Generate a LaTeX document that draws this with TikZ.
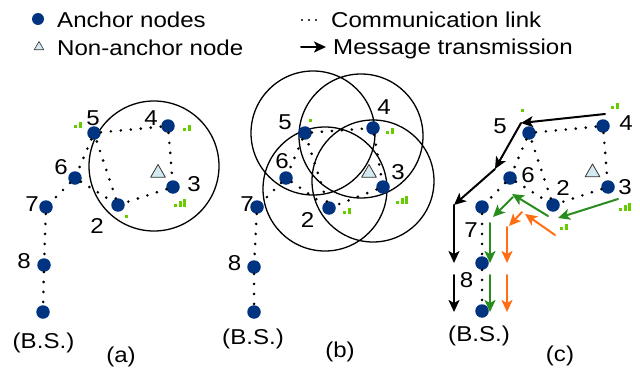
\documentclass[tikz,border=0pt]{standalone}
\usepackage{fontspec}
\setmainfont{Liberation Sans}[FakeStretch=1.12]
\usetikzlibrary{arrows.meta,shapes.geometric}
\definecolor{navy}{RGB}{0,51,128}
\definecolor{skyfill}{RGB}{210,234,240}
\definecolor{barg}{RGB}{102,204,0}
\definecolor{pathg}{RGB}{40,140,30}
\definecolor{patho}{RGB}{255,110,20}
% signal bars: x, y (bottom left), number of bars
\newcommand\sigbars[3]{\foreach \k in {1,...,#3} \fill[barg] ({#1+(\k-1)*4.7},#2) rectangle ++(3,{-1-2.5*\k});}
\begin{document}
\begin{tikzpicture}[x=1pt,y=-1pt,>={Stealth[length=12pt,width=11pt,inset=3pt]},
	font=\fontsize{21.5}{25}\selectfont, line join=round, line cap=round,
	anc/.style={circle,fill=navy,minimum size=13.5pt,inner sep=0pt},
	nonanc/.style={regular polygon,regular polygon sides=3,draw=black!80,line width=0.8pt,fill=skyfill,minimum size=17pt,inner sep=0pt},
	lbl/.style={inner sep=0pt},
	link/.style={line width=2.9pt,dash pattern=on 0pt off 10pt},
	keylink/.style={line width=2.3pt,dash pattern=on 0pt off 7pt},
	rangecirc/.style={line width=1.3pt},
	msg/.style={->,line width=2pt}]
	\useasboundingbox (0,0) rectangle (640,369);
	%	\draw[color=gray!50,dashed] (0,0) grid[step=20] (640,369);
	% legend
	\node[anc,minimum size=12pt] (kanc) at (38,19) {};
	\node[lbl,anchor=base west] (tanc) at (57,28) {Anchor nodes};
	\node[nonanc,minimum size=11pt,line width=0.6pt] (knon) at (39,47) {};
	\node[lbl,anchor=base west] (tnon) at (57,56) {Non-anchor node};
	\coordinate (kl1) at (302,20); \coordinate (kl2) at (318,20);
	\draw[keylink] (kl1)--(kl2);
	\node[lbl,anchor=base west] (tlink) at (331,28) {Communication link};
	\coordinate (km1) at (301,47); \coordinate (km2) at (326,47);
	\draw[msg] (km1)--(km2);
	\node[lbl,anchor=base west] (tmsg) at (333,55) {Message transmission};
	
	% (a)
	\draw[rangecirc] (154,166) circle (65);
	\node[anc] (a5) at (94,133) {};
	\node[anc] (a4) at (168,126) {};
	\node[anc] (a6) at (75,178) {};
	\node[anc] (a3) at (173,187) {};
	\node[anc] (a2) at (118,205) {};
	\node[anc] (a7) at (46,207) {};
	\node[anc] (a8) at (44,265) {};
	\node[anc] (abs) at (43,312) {};
	\node[nonanc] (atri) at (158,173) {};
	\node[lbl] (a5l) at (93,118.5) {5};
	\node[lbl] (a4l) at (151,118) {4};
	\node[lbl] (a6l) at (61,167.5) {6};
	\node[lbl] (a3l) at (194,184.5) {3};
	\node[lbl] (a2l) at (97,226) {2};
	\node[lbl] (a7l) at (32,204) {7};
	\node[lbl] (a8l) at (24,261) {8};
	\node[lbl] (absl) at (43.5,343) {(B.S.)};
	\node[lbl] (acap) at (121,357) {(a)};
	\sigbars{74}{128}{2} \sigbars{183}{131}{2} \sigbars{174}{207}{3} \sigbars{125}{218}{1}
	
	% (b)
	\draw[rangecirc] (313,133) circle (62) (361,136) circle (62)
		(325,189) circle (62) (373,181) circle (61);
	\node[anc] (b5) at (305,133) {};
	\node[anc] (b4) at (373,128) {};
	\node[anc] (b6) at (286,178) {};
	\node[anc] (b3) at (383,187) {};
	\node[anc] (b2) at (329,208) {};
	\node[anc] (b7) at (257,207) {};
	\node[anc] (b8) at (254,267) {};
	\node[anc] (bbs) at (254,312) {};
	\node[nonanc] (btri) at (369,173) {};
	\node[lbl] (b5l) at (285,122) {5};
	\node[lbl] (b4l) at (384,107.5) {4};
	\node[lbl] (b6l) at (282,161) {6};
	\node[lbl] (b3l) at (398,172.5) {3};
	\node[lbl] (b2l) at (307.5,219.5) {2};
	\node[lbl] (b7l) at (247,204.5) {7};
	\node[lbl] (b8l) at (234.5,263.5) {8};
	\node[lbl] (bbsl) at (253,339) {(B.S.)};
	\node[lbl] (bcap) at (340,352) {(b)};
	\sigbars{309}{122}{1} \sigbars{386}{134}{2} \sigbars{396}{204}{3} \sigbars{343}{214}{2}
	
	% (c)
	\node[anc] (c5) at (529,133) {};
	\node[anc] (c4) at (603,126) {};
	\node[anc] (c6) at (510,178) {};
	\node[anc] (c3) at (608,187) {};
	\node[anc] (c2) at (553,205) {};
	\node[anc] (c7) at (482,207) {};
	\node[anc] (c8) at (482,263) {};
	\node[anc] (cbs) at (482,311) {};
	\node[nonanc] (ctri) at (592.5,172.5) {};
	\node[lbl] (c5l) at (500,126.5) {5};
	\node[lbl] (c4l) at (626,123) {4};
	\node[lbl] (c6l) at (528,175.5) {6};
	\node[lbl] (c3l) at (625,187.5) {3};
	\node[lbl] (c2l) at (563,187.5) {2};
	\node[lbl] (c7l) at (471,230.5) {7};
	\node[lbl] (c8l) at (466.5,280.5) {8};
	\node[lbl] (cbsl) at (479,336) {(B.S.)};
	\node[lbl] (ccap) at (560,356) {(c)};
	\sigbars{521}{112}{1} \sigbars{611}{109}{2} \sigbars{619}{211}{3} \sigbars{560}{230}{2}
	
	% communication links
	\foreach \p in {a,b,c}
		\draw[link] (\p5)--(\p4)--(\p3)--(\p2)--(\p5)--(\p6)--(\p7)--(\p8)--(\p bs) (\p6)--(\p2);
	
	% message transmission
	\coordinate (k1) at (605,114); \coordinate (k2) at (521,123);
	\coordinate (k3) at (495,169); \coordinate (k4) at (454,205);
	\coordinate (k5) at (454,263); \coordinate (k6) at (454,275);
	\coordinate (k7) at (454,312);
	\draw[msg] (k1)--(k2); \draw[msg] (k2)--(k3); \draw[msg] (k3)--(k4);
	\draw[msg] (k4)--(k5); \draw[msg] (k6)--(k7);
	\coordinate (g1) at (618,199); \coordinate (g2) at (558,218);
	\coordinate (g3) at (548,216); \coordinate (g4) at (512,194);
	\coordinate (g5) at (513,197); \coordinate (g6) at (493,217);
	\coordinate (g7) at (490,223); \coordinate (g8) at (490,263);
	\coordinate (g9) at (490,275); \coordinate (g10) at (490,312);
	\draw[msg,pathg] (g1)--(g2); \draw[msg,pathg] (g3)--(g4); \draw[msg,pathg] (g5)--(g6);
	\draw[msg,pathg] (g7)--(g8); \draw[msg,pathg] (g9)--(g10);
	\coordinate (o1) at (555,235); \coordinate (o2) at (525,214);
	\coordinate (o3) at (522,212); \coordinate (o4) at (509,226);
	\coordinate (o5) at (507,227); \coordinate (o6) at (507,263);
	\coordinate (o7) at (507,275); \coordinate (o8) at (507,312);
	\draw[msg,patho] (o1)--(o2); \draw[msg,patho] (o3)--(o4);
	\draw[msg,patho] (o5)--(o6); \draw[msg,patho] (o7)--(o8);
\end{tikzpicture}
\end{document}
